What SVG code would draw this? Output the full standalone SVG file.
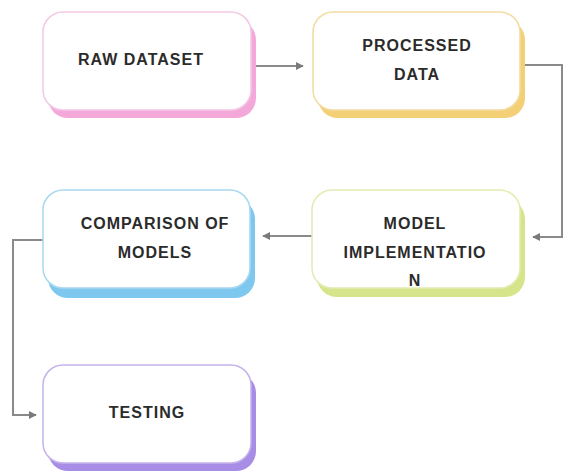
<svg xmlns="http://www.w3.org/2000/svg" width="565" height="471" viewBox="0 0 565 471">
<defs>
<style>
.box{fill:#ffffff;stroke-width:1.5}
.lbl{font-family:"Liberation Sans",Arial,sans-serif;font-weight:bold;font-size:16px;letter-spacing:1px;fill:#2b2b2b;text-anchor:middle}
.conn{fill:none;stroke:#8a8a8a;stroke-width:2}
</style>
<marker id="ah" viewBox="0 0 10 10" refX="9" refY="5" markerWidth="4" markerHeight="4" orient="auto" markerUnits="strokeWidth">
<path d="M0,0 L10,5 L0,10 z" fill="#7a7a7a"/>
</marker>
</defs>
<rect width="565" height="471" fill="#ffffff"/>
<g id="connectors">
<path class="conn" d="M256,66 H303" marker-end="url(#ah)"/>
<path class="conn" d="M525,65 H562 V237 H533" marker-end="url(#ah)"/>
<path class="conn" d="M312,236 H263" marker-end="url(#ah)"/>
<path class="conn" d="M43,240 H13 V415 H36" marker-end="url(#ah)"/>
</g>
<g id="raw-dataset">
<rect x="48" y="20" width="208" height="98" rx="20" fill="#f4a8da"/>
<rect class="box" x="43" y="12" width="208" height="98" rx="20" stroke="#f3c8e5"/>
<text class="lbl" x="141" y="65">RAW DATASET</text>
</g>
<g id="processed-data">
<rect x="318" y="20" width="207" height="98" rx="20" fill="#f3cf75"/>
<rect class="box" x="313" y="12" width="207" height="98" rx="20" stroke="#f3dca2"/>
<text class="lbl" x="417" y="51">PROCESSED</text>
<text class="lbl" x="417" y="80">DATA</text>
</g>
<g id="model-implementation">
<rect x="317" y="199" width="208" height="98" rx="20" fill="#d6e58a"/>
<rect class="box" x="312" y="190" width="208" height="98" rx="20" stroke="#e2ecb2"/>
<text class="lbl" x="415" y="229">MODEL</text>
<text class="lbl" x="415" y="258">IMPLEMENTATIO</text>
<text class="lbl" x="415" y="286">N</text>
</g>
<g id="comparison-of-models">
<rect x="48" y="199" width="207" height="99" rx="20" fill="#7ec8f0"/>
<rect class="box" x="43" y="190" width="207" height="98" rx="20" stroke="#a8d8f0"/>
<text class="lbl" x="155" y="229">COMPARISON OF</text>
<text class="lbl" x="155" y="258">MODELS</text>
</g>
<g id="testing">
<rect x="48" y="373" width="208" height="98" rx="20" fill="#a88de6"/>
<rect class="box" x="43" y="365" width="208" height="98" rx="20" stroke="#c4b2ec"/>
<text class="lbl" x="147" y="418">TESTING</text>
</g>
</svg>
